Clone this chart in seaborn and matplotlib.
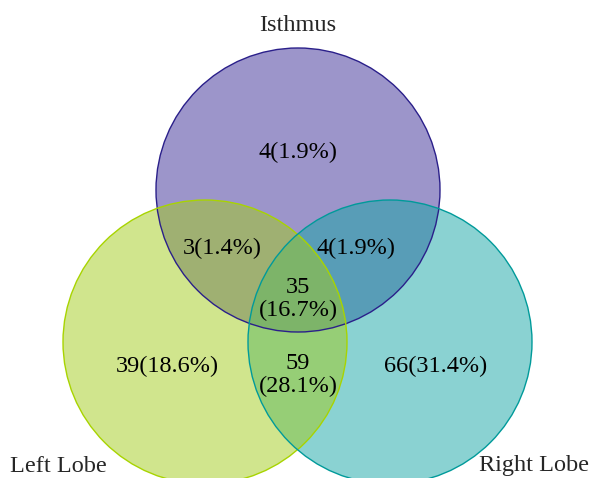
import matplotlib.pyplot as plt
import matplotlib.patches as mpatches
import seaborn as sns

# Venn diagram data
set_names = ['Isthmus', 'Left Lobe', 'Right Lobe']
region_keys = ['I', 'IL', 'IR', 'ILR', 'L', 'LR', 'R']
region_counts = [4, 3, 4, 35, 39, 59, 66]

sns.set_style('white')
plt.rcParams['font.family'] = ['Liberation Serif', 'DejaVu Serif']

total = sum(region_counts)

fig = plt.figure(figsize=(5.9, 4.78), dpi=100)
ax = fig.add_axes([0, 0, 1, 1])
ax.set_xlim(0, 590)
ax.set_ylim(478, 0)
ax.set_aspect('equal')
ax.axis('off')

# circle layout (pixel-like units)
centers = {'Isthmus': (298, 190), 'Left Lobe': (205, 342), 'Right Lobe': (390, 342)}
radius = 142
fills = {'Isthmus': '#3a2c96', 'Left Lobe': '#a2cc1c', 'Right Lobe': '#16a6a6'}
edges = {'Isthmus': '#2a1f8a', 'Left Lobe': '#a8d400', 'Right Lobe': '#009a9a'}

# left lobe sits on top
for name in ['Isthmus', 'Right Lobe', 'Left Lobe']:
    ax.add_patch(mpatches.Circle(centers[name], radius, facecolor=fills[name],
                                 alpha=0.5, edgecolor='none'))
for name in set_names:
    ax.add_patch(mpatches.Circle(centers[name], radius, facecolor='none',
                                 edgecolor=edges[name], lw=1.0))

# region label positions
spots = {'I': (298, 152), 'IL': (222, 248), 'IR': (356, 248),
         'ILR': (298, 299), 'L': (167, 366), 'LR': (298, 375), 'R': (436, 366)}
for key, n in zip(region_keys, region_counts):
    pct = f'({n / total * 100:.1f}%)'
    txt = f'{n}\n{pct}' if key in ('ILR', 'LR') else f'{n}{pct}'
    ax.text(*spots[key], txt, ha='center', va='center', fontsize=17.5,
            linespacing=1.15, color='black')

ax.text(298, 25, set_names[0], ha='center', va='center', fontsize=17.5)
ax.text(58, 466, set_names[1], ha='center', va='center', fontsize=17.5)
ax.text(534, 466, set_names[2], ha='center', va='center', fontsize=17.5)

fig.savefig('out.png', dpi=100)
